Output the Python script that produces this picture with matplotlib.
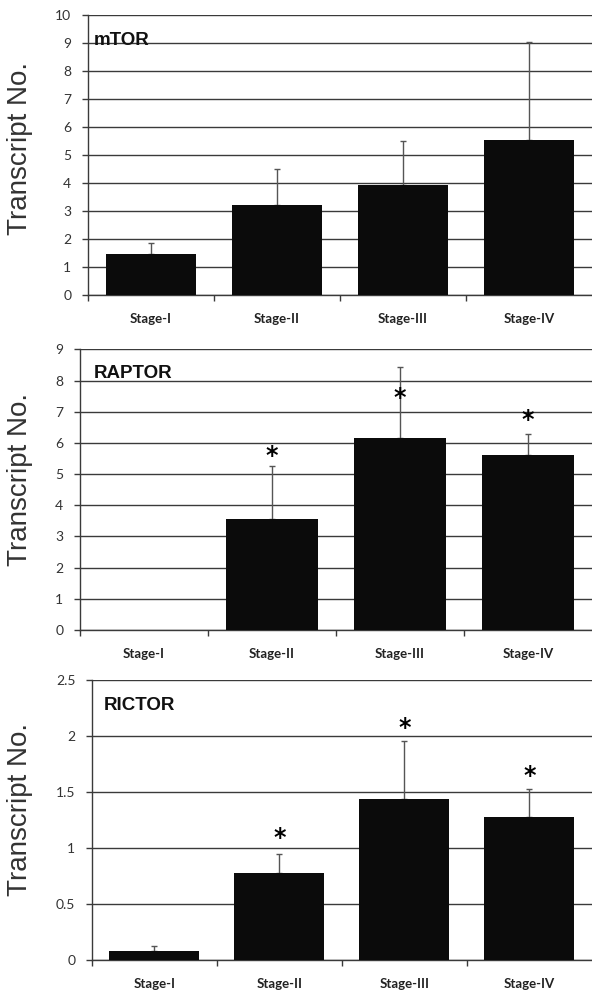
"""Transcript numbers of mTOR, RAPTOR and RICTOR by tumour stage."""
import matplotlib

matplotlib.use("Agg")
import matplotlib.pyplot as plt  # noqa: E402
import matplotlib.transforms as mtransforms  # noqa: E402
import numpy as np  # noqa: E402

stages = ["Stage-I", "Stage-II", "Stage-III", "Stage-IV"]

mtor_mean = [1.45, 3.2, 3.92, 5.55]
mtor_err = [0.42, 1.3, 1.58, 3.5]

raptor_mean = [0.0, 3.57, 6.15, 5.62]
raptor_err = [0.0, 1.68, 2.27, 0.68]
raptor_star = [None, 5.58, 7.43, 6.75]

rictor_mean = [0.08, 0.78, 1.44, 1.28]
rictor_err = [0.045, 0.17, 0.52, 0.25]
rictor_star = [None, 1.09, 2.07, 1.64]

GRID = "#3a3a3a"
ARIAL = ["Liberation Sans", "DejaVu Sans"]

plt.rcParams["font.family"] = ["Lato", "DejaVu Sans"]

fig = plt.figure(figsize=(5.92, 9.9), dpi=100)

# axes rect, ymax, y step, name, name x (axes frac), name y (data), ylabel y (fig frac)
panels = [
    ([0.1486, 0.702, 0.8514, 0.2828], 10, 1, "mTOR", 0.012, 9.1, 1 - 148.5 / 990,
     mtor_mean, mtor_err, None),
    ([0.1351, 0.3636, 0.8649, 0.2835], 9, 1, "RAPTOR", 0.027, 8.24, 1 - 479 / 990,
     raptor_mean, raptor_err, raptor_star),
    ([0.1554, 0.0303, 0.8446, 0.2828], 2.5, 0.5, "RICTOR", 0.024, 2.27, 1 - 810 / 990,
     rictor_mean, rictor_err, rictor_star),
]

x = np.arange(len(stages))
for rect, ymax, step, name, name_x, name_y, lab_y, means, errs, stars in panels:
    ax = fig.add_axes(rect)
    ax.bar(x, means, width=0.72, color="#0b0b0b", zorder=3)

    # only upper whiskers, and none where there is no bar
    has = np.array(errs) > 0
    ax.errorbar(x[has], np.array(means)[has],
                yerr=[np.zeros(has.sum()), np.array(errs)[has]], fmt="none",
                ecolor="#555555", elinewidth=1.0, capsize=2.2, capthick=1.0,
                zorder=2)
    if stars is not None:
        for xi, sy in zip(x, stars):
            if sy is not None:
                ax.text(xi, sy, "*", ha="center", va="center", fontsize=17,
                        fontweight="bold", family="DejaVu Sans", zorder=4)

    ax.set_xlim(-0.5, 3.5)
    ax.set_ylim(0, ymax)
    yt = np.arange(0, ymax + step / 2, step)
    ax.set_yticks(yt)
    ax.set_yticklabels([f"{v:g}" for v in yt], fontsize=10, color="#333333")
    ax.yaxis.grid(True, color=GRID, linewidth=1.0, zorder=0)
    ax.set_axisbelow(True)

    ax.set_xticks(x)
    ax.set_xticklabels(stages, fontsize=9.5, fontweight="bold", color="#222222")
    ax.set_xticks(np.arange(-0.5, 3.0, 1.0), minor=True)
    ax.tick_params(axis="x", which="major", length=0, pad=13)
    ax.tick_params(axis="x", which="minor", length=4, width=1.0,
                   color=GRID, direction="out")
    ax.tick_params(axis="y", length=4, width=1.0, color=GRID, pad=8)

    for side in ("top", "right"):
        ax.spines[side].set_visible(False)
    for side in ("left", "bottom"):
        ax.spines[side].set_color(GRID)
        ax.spines[side].set_linewidth(1.0)

    trans = mtransforms.blended_transform_factory(ax.transAxes, ax.transData)
    ax.text(name_x, name_y, name, transform=trans, fontsize=13.5,
            fontweight="bold", va="center", ha="left", family=ARIAL,
            color="#111111", zorder=4)
    fig.text(20 / 592, lab_y, "Transcript No.", rotation=90, fontsize=20,
             color="#333333", family=ARIAL, ha="center", va="center")

fig.savefig("out.png", dpi=100)
